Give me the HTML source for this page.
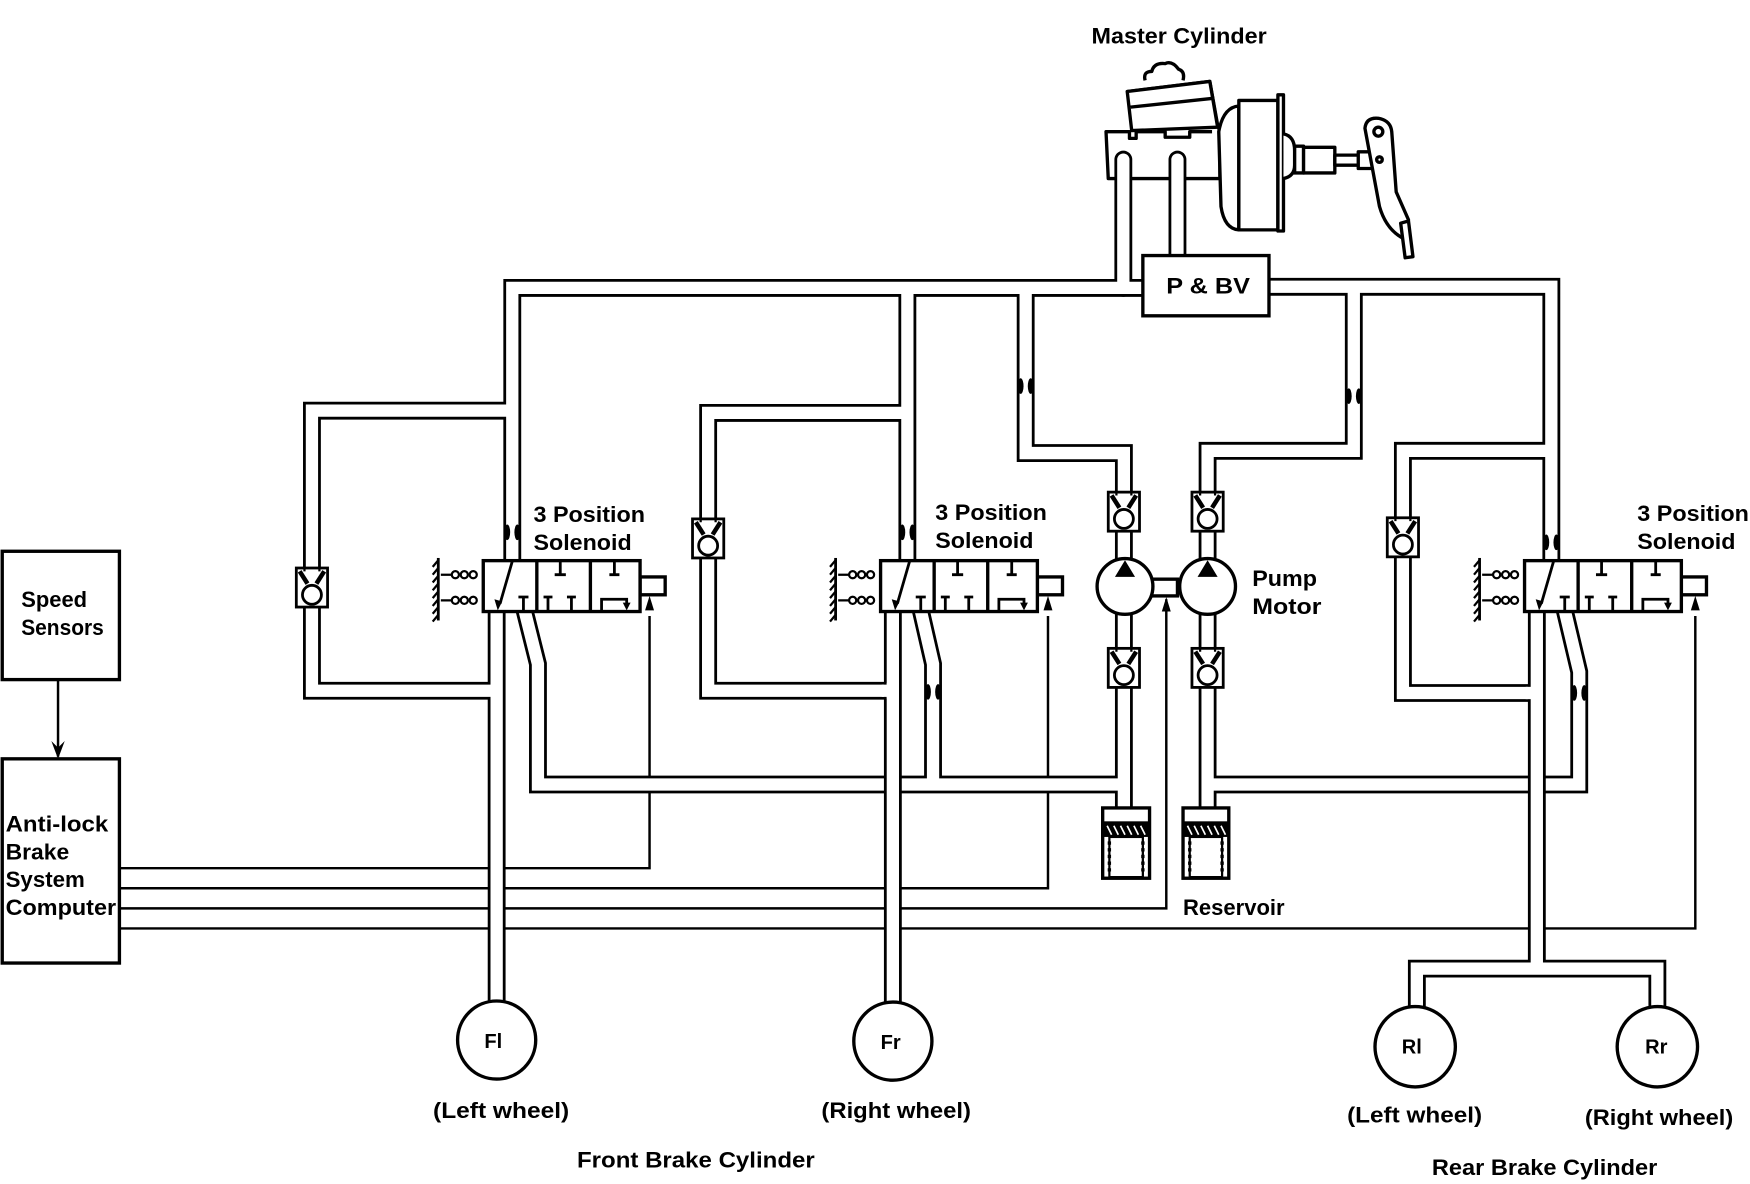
<!DOCTYPE html>
<html><head><meta charset="utf-8"><style>
html,body{margin:0;padding:0;background:#fff;}
svg{display:block;}
text{font-family:"Liberation Sans",sans-serif;font-weight:bold;fill:#000;}
</style></head><body>
<svg width="1750" height="1184" viewBox="0 0 1568 1061" preserveAspectRatio="none" xmlns="http://www.w3.org/2000/svg">
<rect width="1568" height="1061" fill="#fff"/>

<!-- wires -->
<g stroke="#000" stroke-width="2.2" fill="none">
<path d="M52 609 V678"/>
<path d="M107 778 H582 V552"/>
<path d="M107 796 H939 V552"/>
<path d="M107 814 H1045 V537"/>
<path d="M107 832 H1519 V552"/>
</g>
<g fill="#000">
<polygon points="52,680 46,664 52,670 58,664"/>
<polygon points="582,534 578,547 586,547"/>
<polygon points="939,534 935,547 943,547"/>
<polygon points="1045,535 1041,548 1049,548"/>
<polygon points="1519,534 1515,547 1523,547"/>
</g>

<!-- master cylinder body -->
<g stroke="#000" stroke-width="3" fill="#fff" stroke-linejoin="round">
<path d="M1010 82 L1084 73 L1091 112 L1093 118 V160 H993 L991 118 H1012 V124 H1018 V118 H1044 V123 H1066 V118 H1086"/>
<path d="M1010 82 L1084 73 L1091 114 L1014 117 Z"/>
<path d="M1013 96 L1088 88" fill="none"/>
<path d="M1026 72 Q1024 64 1032 64 Q1034 56 1044 57 Q1050 54 1056 62 Q1062 64 1060 72"/>
<path d="M1092 118 Q1096 96 1110 95 V206 Q1097 205 1094 185 Z"/>
<rect x="1110" y="90" width="35" height="116"/>
<rect x="1145" y="85" width="5" height="122"/>
<path d="M1150 120 Q1160 122 1160 135 V148 Q1160 158 1150 160"/>
<rect x="1160" y="131" width="8" height="24"/>
<path d="M1168 132 H1196 V155 H1168 Z"/>
<rect x="1196" y="139" width="23" height="9"/>
<rect x="1217" y="136" width="26" height="15"/>
<path d="M1223 115 Q1224 105 1235 106 Q1246 108 1247 118 L1251 172 L1262 197 L1258 214 Q1242 206 1236 185 Z"/>
<circle cx="1235" cy="118" r="4"/>
<circle cx="1236" cy="143" r="2.5"/>
<path d="M1255 200 L1262 198 L1266 230 L1259 231 Z"/>
</g>

<!-- pipes: black outer -->
<g fill="none" stroke="#000" stroke-width="16" stroke-linejoin="miter">
<path d="M1024 258 H459 V503"/>
<path d="M459 368 H279.5 V619 H445"/>
<path d="M445 547 V900"/>
<path d="M813 258 V503"/>
<path d="M813 370 H634.5 V619 H800"/>
<path d="M919 258 V406 H1007 V501"/>
<path d="M1007 549 V725"/>
<path d="M1137 257 H1390 V503"/>
<path d="M1390 404 H1257 V621 H1377"/>
<path d="M1213 257 V404 H1082 V501"/>
<path d="M1082 549 V725"/>
<path d="M470 547 L482 595 V703 H1007"/>
<path d="M825 547 L836 595 V703"/>
<path d="M1402 547 L1415 602 V703 H1082"/>
<path d="M1006.5 258 V143" stroke-linecap="round"/>
<path d="M1055 229 V143" stroke-linecap="round"/>
</g>
<!-- pipes: white inner -->
<g fill="none" stroke="#fff" stroke-width="11" stroke-linejoin="miter">
<path d="M1024 258 H459 V503"/>
<path d="M459 368 H279.5 V619 H445"/>
<path d="M445 547 V900"/>
<path d="M813 258 V503"/>
<path d="M813 370 H634.5 V619 H800"/>
<path d="M919 258 V406 H1007 V501"/>
<path d="M1007 549 V725"/>
<path d="M1137 257 H1390 V503"/>
<path d="M1390 404 H1257 V621 H1377"/>
<path d="M1213 257 V404 H1082 V501"/>
<path d="M1082 549 V725"/>
<path d="M470 547 L482 595 V703 H1007"/>
<path d="M825 547 L836 595 V703"/>
<path d="M1402 547 L1415 602 V703 H1082"/>
<path d="M1006.5 258 V143" stroke-linecap="round"/>
<path d="M1055 229 V143" stroke-linecap="round"/>
</g>
<!-- wheel pipes on top (crossing) -->
<g fill="none" stroke="#000" stroke-width="16">
<path d="M800 547 V900"/>
<path d="M1377 547 V868"/>
<path d="M1269.5 903 V868 H1485 V903"/>
</g>
<g fill="none" stroke="#fff" stroke-width="11">
<path d="M800 540 V900"/>
<path d="M800 612 V626"/>
<path d="M1377 540 V868"/>
<path d="M1269.5 903 V868 H1485 V903"/>
</g>
<!-- reopen loop joins into wheel pipes -->
<g fill="none" stroke="#fff" stroke-width="11">
<path d="M790 619 H801"/>
<path d="M1367 621 H1378"/>
</g>

<!-- restrictions -->
<g fill="#000">
<ellipse cx="454.5" cy="477" rx="2.6" ry="7"/><ellipse cx="463.5" cy="477" rx="2.6" ry="7"/>
<ellipse cx="808.5" cy="477" rx="2.6" ry="7"/><ellipse cx="817.5" cy="477" rx="2.6" ry="7"/>
<ellipse cx="914.5" cy="346" rx="2.6" ry="7"/><ellipse cx="923.5" cy="346" rx="2.6" ry="7"/>
<ellipse cx="1208.5" cy="355" rx="2.6" ry="7"/><ellipse cx="1217.5" cy="355" rx="2.6" ry="7"/>
<ellipse cx="1385.5" cy="486" rx="2.6" ry="7"/><ellipse cx="1394.5" cy="486" rx="2.6" ry="7"/>
<ellipse cx="831.5" cy="620" rx="2.6" ry="7"/><ellipse cx="840.5" cy="620" rx="2.6" ry="7"/>
<ellipse cx="1410.5" cy="621" rx="2.6" ry="7"/><ellipse cx="1419.5" cy="621" rx="2.6" ry="7"/>
</g>

<defs>
<g id="cv">
<rect x="-14" y="0" width="28" height="35" fill="#fff" stroke="#000" stroke-width="2.5"/>
<path d="M-11 3 L-4 14 M11 3 L4 14" stroke="#000" stroke-width="4"/>
<path d="M-6.7 0 V3 M6.7 0 V3" stroke="#000" stroke-width="2"/>
<circle cx="0" cy="24" r="8.5" fill="#fff" stroke="#000" stroke-width="2.5"/>
</g>
<g id="sol">
<path d="M392.7 500 V556" stroke="#000" stroke-width="2.5"/>
<path d="M392.7 502 l-5 6 M392.7 509 l-5 6 M392.7 516 l-5 6 M392.7 523 l-5 6 M392.7 530 l-5 6 M392.7 537 l-5 6 M392.7 544 l-5 6 M392.7 551 l-5 6" stroke="#000" stroke-width="2"/>
<g fill="#fff" stroke="#000" stroke-width="2">
<circle cx="408" cy="515" r="3.2"/><circle cx="416" cy="515" r="3.2"/><circle cx="424" cy="515" r="3.2"/>
<circle cx="408" cy="538" r="3.2"/><circle cx="416" cy="538" r="3.2"/><circle cx="424" cy="538" r="3.2"/>
</g>
<path d="M395 515 H405 M395 538 H405" stroke="#000" stroke-width="2"/>
<rect x="573.5" y="517" width="22.5" height="16" fill="#fff" stroke="#000" stroke-width="3"/>
<rect x="433" y="502.4" width="140.5" height="45.6" fill="#fff" stroke="#000" stroke-width="3"/>
<path d="M481 502 V548 M529 502 V548" stroke="#000" stroke-width="3"/>
<g stroke="#000" stroke-width="2.5" fill="none">
<path d="M459 503 L448 541"/>
<path d="M469 548 V535 M464.5 535 H473.5"/>
<path d="M502 502 V515 M497 515 H507"/>
<path d="M491 548 V535 M487 535 H495"/>
<path d="M512 548 V535 M508 535 H516"/>
<path d="M550.5 502 V515 M546 515 H555"/>
<path d="M539 548 V537 H561.5 V542"/>
</g>
<polygon points="446,547 443,537 450,539" fill="#000"/>
<polygon points="561.5,547 558,540 565,540" fill="#000"/>
</g>
</defs>
<use href="#cv" x="279.5" y="509"/>
<use href="#cv" x="634.5" y="465"/>
<use href="#cv" x="1257" y="464"/>
<use href="#cv" x="1007" y="441"/>
<use href="#cv" x="1082" y="441"/>
<use href="#cv" x="1007" y="581"/>
<use href="#cv" x="1082" y="581"/>

<use href="#sol"/>
<use href="#sol" x="356"/>
<use href="#sol" x="933"/>

<!-- pumps -->
<g stroke="#000" stroke-width="3" fill="#fff">
<rect x="1030" y="519" width="25" height="15"/>
<circle cx="1008" cy="525.5" r="25"/>
<circle cx="1082" cy="525.5" r="25"/>
</g>
<polygon points="1008,502 999,517 1017,517" fill="#000"/>
<polygon points="1082,502 1073,517 1091,517" fill="#000"/>

<!-- reservoirs -->
<g stroke="#000" stroke-width="3" fill="#fff">
<rect x="988" y="724" width="42" height="63"/>
<rect x="1060" y="724" width="41" height="63"/>
</g>
<g fill="#fff" stroke="#000" stroke-width="2">
<rect x="989" y="737" width="40" height="12" fill="#000"/>
<rect x="1061" y="737" width="39" height="12" fill="#000"/>
<rect x="994" y="750" width="30" height="36"/>
<rect x="1066" y="750" width="29" height="36"/>
</g>
<path d="M992 740 l4 8 M998 740 l4 8 M1004 740 l4 8 M1010 740 l4 8 M1016 740 l4 8 M1022 740 l4 8 M1064 740 l4 8 M1070 740 l4 8 M1076 740 l4 8 M1082 740 l4 8 M1088 740 l4 8 M1094 740 l4 8" stroke="#fff" stroke-width="1.5"/>
<path d="M994 754 v30 M1024 754 v30 M1066 754 v30 M1095 754 v30" stroke="#000" stroke-width="3" stroke-dasharray="3 3"/>

<!-- boxes -->
<g stroke="#000" stroke-width="3" fill="#fff">
<rect x="1024" y="229" width="113" height="54"/>
<rect x="2" y="494" width="105" height="115"/>
<rect x="2" y="680" width="105" height="183"/>
<circle cx="445" cy="932" r="35"/>
<circle cx="800" cy="933" r="35"/>
<circle cx="1268" cy="938" r="36"/>
<circle cx="1485" cy="938" r="36"/>
</g>

<!-- labels -->
<g font-size="20">
<text x="978" y="39" textLength="157" lengthAdjust="spacingAndGlyphs">Master Cylinder</text>
<text x="1045" y="263" textLength="75" lengthAdjust="spacingAndGlyphs">P &amp; BV</text>
<text x="478" y="468" textLength="100" lengthAdjust="spacingAndGlyphs">3 Position</text>
<text x="478" y="493" textLength="88" lengthAdjust="spacingAndGlyphs">Solenoid</text>
<text x="838" y="466" textLength="100" lengthAdjust="spacingAndGlyphs">3 Position</text>
<text x="838" y="491" textLength="88" lengthAdjust="spacingAndGlyphs">Solenoid</text>
<text x="1467" y="467" textLength="100" lengthAdjust="spacingAndGlyphs">3 Position</text>
<text x="1467" y="492" textLength="88" lengthAdjust="spacingAndGlyphs">Solenoid</text>
<text x="1122" y="525" textLength="58" lengthAdjust="spacingAndGlyphs">Pump</text>
<text x="1122" y="550" textLength="62" lengthAdjust="spacingAndGlyphs">Motor</text>
<text x="1060" y="820" textLength="91" lengthAdjust="spacingAndGlyphs">Reservoir</text>
<text x="19" y="544" textLength="59" lengthAdjust="spacingAndGlyphs">Speed</text>
<text x="19" y="569" textLength="74" lengthAdjust="spacingAndGlyphs">Sensors</text>
<text x="5" y="745" textLength="92" lengthAdjust="spacingAndGlyphs">Anti-lock</text>
<text x="5" y="770" textLength="57" lengthAdjust="spacingAndGlyphs">Brake</text>
<text x="5" y="795" textLength="71" lengthAdjust="spacingAndGlyphs">System</text>
<text x="5" y="820" textLength="99" lengthAdjust="spacingAndGlyphs">Computer</text>
<text x="434" y="939" font-size="18">Fl</text>
<text x="789" y="940" font-size="18">Fr</text>
<text x="1256" y="944" font-size="18">Rl</text>
<text x="1474" y="944" font-size="18">Rr</text>
<text x="388" y="1002" textLength="122" lengthAdjust="spacingAndGlyphs">(Left wheel)</text>
<text x="736" y="1002" textLength="134" lengthAdjust="spacingAndGlyphs">(Right wheel)</text>
<text x="1207" y="1006" textLength="121" lengthAdjust="spacingAndGlyphs">(Left wheel)</text>
<text x="1420" y="1008" textLength="133" lengthAdjust="spacingAndGlyphs">(Right wheel)</text>
<text x="517" y="1046" textLength="213" lengthAdjust="spacingAndGlyphs">Front Brake Cylinder</text>
<text x="1283" y="1053" textLength="202" lengthAdjust="spacingAndGlyphs">Rear Brake Cylinder</text>
</g>
</svg>
</body></html>
